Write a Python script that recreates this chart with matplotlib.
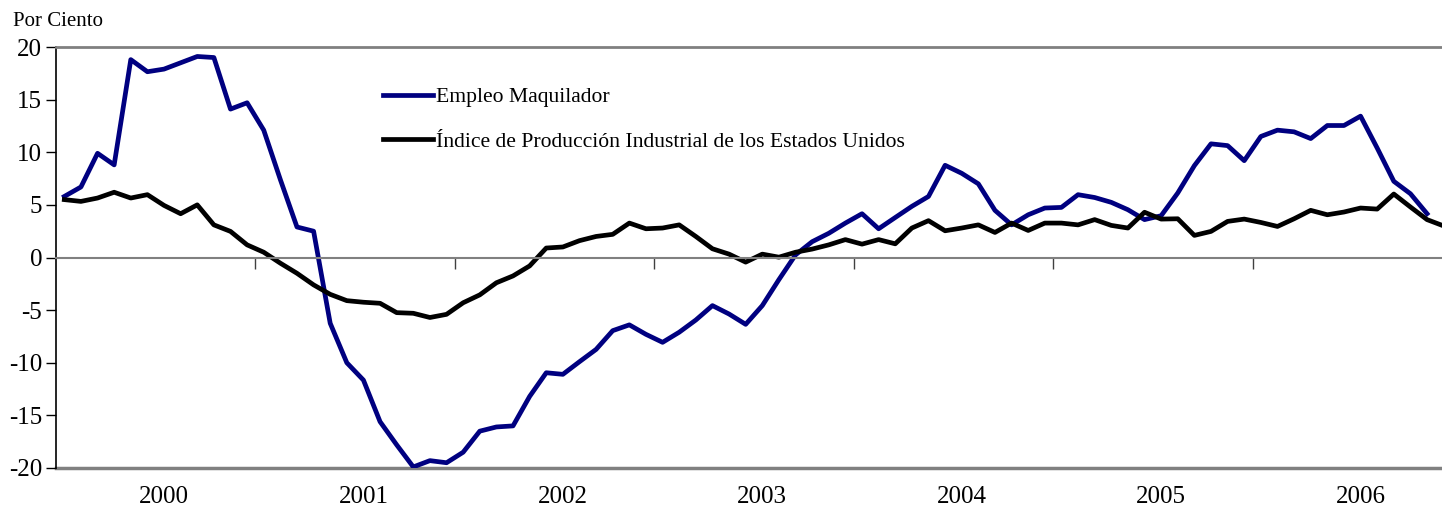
from matplotlib import pyplot as plt
import numpy as np

plt.rcParams['font.family'] = ['Liberation Serif', 'DejaVu Serif']
plt.rcParams['axes.unicode_minus'] = False

years = ["2000", "2001", "2002", "2003", "2004", "2005", "2006"]

# monthly series, Jan 2000 onwards
empleo = [5.8, 6.7, 9.9, 8.8, 18.8, 17.65, 17.9, 18.5, 19.1, 19.0, 14.1, 14.7,
          12.1, 7.4, 2.9, 2.5, -6.25, -10.0, -11.65, -15.6, -17.8, -19.9, -19.3, -19.5,
          -18.5, -16.5, -16.1, -16.0, -13.2, -10.95, -11.1, -9.9, -8.73, -6.95, -6.4, -7.3,
          -8.06, -7.1, -5.94, -4.57, -5.37, -6.35, -4.57, -2.1, 0.25, 1.5, 2.3, 3.27,
          4.16, 2.73, 3.8, 4.86, 5.8, 8.76, 8.0, 7.0, 4.48, 3.1, 4.06, 4.7,
          4.76, 5.97, 5.7, 5.24, 4.54, 3.6, 3.97, 6.13, 8.73, 10.8, 10.63, 9.2,
          11.5, 12.1, 11.94, 11.3, 12.54, 12.54, 13.43, 10.4, 7.24, 6.06, 4.16]
ipi = [5.5, 5.33, 5.65, 6.2, 5.65, 5.97, 4.95, 4.16, 5.0, 3.1, 2.48, 1.2,
       0.5, -0.54, -1.5, -2.6, -3.5, -4.1, -4.25, -4.35, -5.24, -5.3, -5.7, -5.4,
       -4.3, -3.55, -2.4, -1.75, -0.8, 0.9, 1.0, 1.6, 2.0, 2.2, 3.27, 2.73,
       2.8, 3.1, 2.0, 0.83, 0.32, -0.44, 0.32, 0.03, 0.5, 0.8, 1.2, 1.7,
       1.27, 1.7, 1.3, 2.8, 3.5, 2.54, 2.8, 3.1, 2.38, 3.27, 2.57, 3.27,
       3.27, 3.1, 3.6, 3.05, 2.8, 4.3, 3.65, 3.68, 2.1, 2.48, 3.43, 3.65,
       3.33, 2.95, 3.68, 4.48, 4.06, 4.32, 4.7, 4.6, 6.03, 4.8, 3.6, 3.0]

fig = plt.figure(figsize=(14.42, 5.16), dpi=100)
ax = fig.add_axes([56/1442, 1-468/516, 1-56/1442, 421/516])

ax.plot(np.arange(len(empleo)), empleo, color='#000080', lw=3.4,
        label='Empleo Maquilador')
ax.plot(np.arange(len(ipi)), ipi, color='black', lw=3.4,
        label='Índice de Producción Industrial de los Estados Unidos')

ax.set_xlim(-0.5, 82.9)
ax.set_ylim(-20, 20)

# axes styling: x axis crosses at zero
ax.spines['right'].set_visible(False)
ax.spines['top'].set_color('#808080')
ax.spines['top'].set_linewidth(2)
ax.spines['left'].set_color('black')
ax.spines['left'].set_linewidth(1.2)
ax.spines['bottom'].set_position(('data', 0))
ax.spines['bottom'].set_color('#808080')
ax.spines['bottom'].set_linewidth(1.5)
ax.axhline(-20, color='#808080', lw=2.5, clip_on=False, zorder=0.5)

ax.set_xticks(np.arange(11.5, 83, 12))
ax.tick_params(axis='x', direction='out', length=8, width=1, color='#404040', labelbottom=False)
ax.set_yticks(np.arange(-20, 21, 5))
ax.tick_params(axis='y', direction='out', length=7, width=1, labelsize=18, pad=3)

for i, yr in enumerate(years):
    ax.text(6 + 12 * i, -0.07, yr, transform=ax.get_xaxis_transform(),
            ha='center', va='center', fontsize=18)

fig.text(13/1442, 1-22/516, 'Por Ciento', ha='left', va='center', fontsize=15)

ax.legend(loc='upper left', bbox_to_anchor=(0.236, 0.905), frameon=False,
          fontsize=15.6, borderpad=0, borderaxespad=0, handlelength=2.3,
          handletextpad=0.12, labelspacing=1.13)

plt.savefig('out.png', dpi=100)
